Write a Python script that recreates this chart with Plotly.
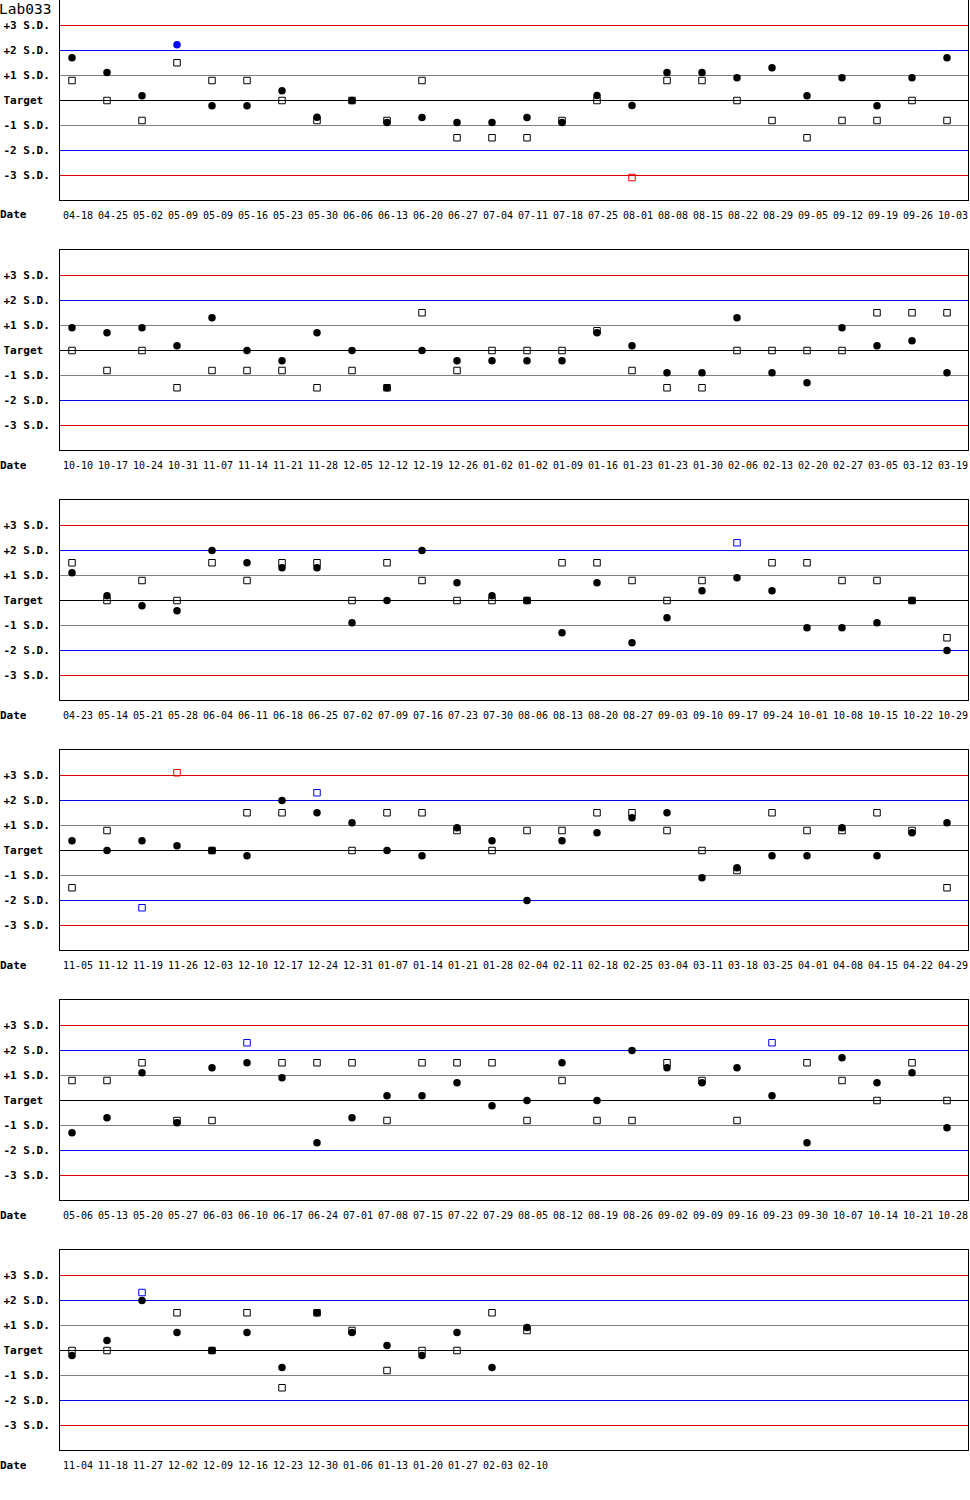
import plotly.graph_objects as go

lab_name = "Lab033"

# weekly QC results in S.D. units: circles = control A, squares = control B
dates_1 = ["04-18", "04-25", "05-02", "05-09", "05-09", "05-16", "05-23", "05-30", "06-06",
           "06-13", "06-20", "06-27", "07-04", "07-11", "07-18", "07-25", "08-01", "08-08",
           "08-15", "08-22", "08-29", "09-05", "09-12", "09-19", "09-26", "10-03"]
ctrl_a_1 = [1.71, 1.12, 0.19, 2.23, -0.21, -0.21, 0.39, -0.67, 0.0, -0.88, -0.68, -0.88, -0.88,
            -0.68, -0.88, 0.2, -0.2, 1.12, 1.12, 0.91, 1.31, 0.19, 0.91, -0.21, 0.91, 1.71]
ctrl_b_1 = [0.8, 0.0, -0.8, 1.51, 0.8, 0.8, 0.0, -0.8, 0.0, -0.8, 0.8, -1.49, -1.49,
            -1.49, -0.8, 0.0, -3.08, 0.8, 0.8, 0.0, -0.8, -1.49, -0.8, -0.8, 0.0, -0.8]

dates_2 = ["10-10", "10-17", "10-24", "10-31", "11-07", "11-14", "11-21", "11-28", "12-05",
           "12-12", "12-19", "12-26", "01-02", "01-02", "01-09", "01-16", "01-23", "01-23",
           "01-30", "02-06", "02-13", "02-20", "02-27", "03-05", "03-12", "03-19"]
ctrl_a_2 = [0.91, 0.71, 0.91, 0.19, 1.31, 0.0, -0.41, 0.71, 0.0, -1.49, 0.0, -0.41, -0.41,
            -0.41, -0.41, 0.71, 0.19, -0.89, -0.89, 1.31, -0.89, -1.29, 0.91, 0.19, 0.39, -0.89]
ctrl_b_2 = [0.0, -0.8, 0.0, -1.49, -0.8, -0.8, -0.8, -1.49, -0.8, -1.49, 1.51, -0.8, 0.0,
            0.0, 0.0, 0.79, -0.8, -1.49, -1.49, 0.0, 0.0, 0.0, 0.0, 1.51, 1.51, 1.51]

dates_3 = ["04-23", "05-14", "05-21", "05-28", "06-04", "06-11", "06-18", "06-25", "07-02",
           "07-09", "07-16", "07-23", "07-30", "08-06", "08-13", "08-20", "08-27", "09-03",
           "09-10", "09-17", "09-24", "10-01", "10-08", "10-15", "10-22", "10-29"]
ctrl_a_3 = [1.11, 0.19, -0.21, -0.41, 2.0, 1.51, 1.31, 1.31, -0.89, 0.0, 2.0, 0.71, 0.19,
            0.0, -1.29, 0.71, -1.69, -0.69, 0.39, 0.91, 0.39, -1.09, -1.09, -0.89, 0.0, -2.0]
ctrl_b_3 = [1.51, 0.0, 0.8, 0.0, 1.51, 0.8, 1.51, 1.51, 0.0, 1.51, 0.8, 0.0, 0.0,
            0.0, 1.51, 1.51, 0.8, 0.0, 0.8, 2.31, 1.51, 1.51, 0.8, 0.8, 0.0, -1.49]

dates_4 = ["11-05", "11-12", "11-19", "11-26", "12-03", "12-10", "12-17", "12-24", "12-31",
           "01-07", "01-14", "01-21", "01-28", "02-04", "02-11", "02-18", "02-25", "03-04",
           "03-11", "03-18", "03-25", "04-01", "04-08", "04-15", "04-22", "04-29"]
ctrl_a_4 = [0.39, 0.0, 0.39, 0.19, 0.0, -0.21, 2.0, 1.51, 1.11, 0.0, -0.21, 0.91, 0.39,
            -2.0, 0.39, 0.71, 1.31, 1.51, -1.09, -0.69, -0.21, -0.21, 0.91, -0.21, 0.71, 1.11]
ctrl_b_4 = [-1.49, 0.8, -2.29, 3.11, 0.0, 1.51, 1.51, 2.31, 0.0, 1.51, 1.51, 0.8, 0.0,
            0.8, 0.8, 1.51, 1.51, 0.8, 0.0, -0.8, 1.51, 0.8, 0.8, 1.51, 0.8, -1.49]

dates_5 = ["05-06", "05-13", "05-20", "05-27", "06-03", "06-10", "06-17", "06-24", "07-01",
           "07-08", "07-15", "07-22", "07-29", "08-05", "08-12", "08-19", "08-26", "09-02",
           "09-09", "09-16", "09-23", "09-30", "10-07", "10-14", "10-21", "10-28"]
ctrl_a_5 = [-1.29, -0.69, 1.11, -0.89, 1.31, 1.51, 0.91, -1.69, -0.69, 0.19, 0.19, 0.71, -0.21,
            0.0, 1.51, 0.0, 2.0, 1.31, 0.71, 1.31, 0.19, -1.69, 1.71, 0.71, 1.11, -1.09]
ctrl_b_5 = [0.8, 0.8, 1.51, -0.8, -0.8, 2.31, 1.51, 1.51, 1.51, -0.8, 1.51, 1.51, 1.51,
            -0.8, 0.8, -0.8, -0.8, 1.51, 0.8, -0.8, 2.31, 1.51, 0.8, 0.0, 1.51, 0.0]

dates_6 = ["11-04", "11-18", "11-27", "12-02", "12-09", "12-16", "12-23", "12-30", "01-06",
           "01-13", "01-20", "01-27", "02-03", "02-10"]
ctrl_a_6 = [-0.2, 0.4, 2.0, 0.72, 0.0, 0.72, -0.68, 1.51, 0.72, 0.2, -0.2, 0.72, -0.68, 0.92]
ctrl_b_6 = [0.0, 0.0, 2.32, 1.51, 0.0, 1.51, -1.49, 1.51, 0.8, -0.8, 0.0, 0.0, 1.51, 0.8]

sd_levels = [3, 2, 1, 0, -1, -2, -3]
sd_labels = ["+3 S.D.", "+2 S.D.", "+1 S.D.", "Target\u00a0", "-1 S.D.", "-2 S.D.", "-3 S.D."]
line_colors = {3: "#dd0000", 2: "#0000ee", 1: "#808080", 0: "#000000"}

panels = [(dates_1, ctrl_a_1, ctrl_b_1), (dates_2, ctrl_a_2, ctrl_b_2),
          (dates_3, ctrl_a_3, ctrl_b_3), (dates_4, ctrl_a_4, ctrl_b_4),
          (dates_5, ctrl_a_5, ctrl_b_5), (dates_6, ctrl_a_6, ctrl_b_6)]


def point_color(v):
    # out of +-3 SD red, out of +-2 SD blue
    if abs(v) > 3:
        return "#ff0000"
    if abs(v) > 2:
        return "#0000ff"
    return "#000000"


W, H = 970, 1500
PANEL_H = 250     # pixels per panel
BOX_H = 200
LEFT, RIGHT = 60, 968
STEP = 35         # pixels between weeks
SLOTS = 26
HALF_PX = 0.5 * 8 / BOX_H   # nudge so 1px lines sit on whole pixels

mono = "DejaVu Sans Mono"

fig = go.Figure()
for k, (dates, a, b) in enumerate(panels):
    sfx = "" if k == 0 else str(k + 1)
    xs = list(range(len(dates)))
    fig.add_trace(go.Scatter(
        x=xs, y=b, mode="markers", xaxis=f"x{sfx}", yaxis=f"y{sfx}",
        marker=dict(symbol="square-open", size=6.5, color=[point_color(v) for v in b],
                    line=dict(width=1)),
        showlegend=False, hoverinfo="skip"))
    fig.add_trace(go.Scatter(
        x=xs, y=a, mode="markers", xaxis=f"x{sfx}", yaxis=f"y{sfx}",
        marker=dict(symbol="circle", size=7.5, color=[point_color(v) for v in a],
                    line=dict(width=0)),
        showlegend=False, hoverinfo="skip"))

    top = PANEL_H * k
    fig.update_layout({
        f"xaxis{sfx}": dict(
            domain=[LEFT / W, RIGHT / W],
            range=[-12 / STEP, SLOTS - 1 + 21 / STEP],
            tickvals=[i + 6 / STEP for i in xs], ticktext=dates,
            ticks="", ticklabelstandoff=6,
            tickfont=dict(family=mono, size=10, color="black"),
            showgrid=False, zeroline=False,
            showline=True, mirror=True, linecolor="black", linewidth=1,
            anchor=f"y{sfx}", fixedrange=True),
        f"yaxis{sfx}": dict(
            domain=[1 - (top + BOX_H) / H, 1 - top / H],
            range=[-4 + HALF_PX, 4 + HALF_PX],
            tickvals=sd_levels, ticktext=sd_labels,
            ticks="", ticklabelstandoff=7,
            tickfont=dict(family=mono, size=11, color="black", weight="bold"),
            showgrid=False, zeroline=False,
            showline=True, mirror=True, linecolor="black", linewidth=1,
            anchor=f"x{sfx}", fixedrange=True),
    })
    for lv in sd_levels:
        fig.add_shape(type="line", xref=f"x{sfx} domain", yref=f"y{sfx}",
                      x0=0, x1=1, y0=lv, y1=lv, layer="below",
                      line=dict(color=line_colors[abs(lv)], width=1))
    fig.add_annotation(text="Date", xref="paper", yref="paper", x=0, xanchor="left",
                       y=1 - (top + 215) / H, yanchor="middle", showarrow=False, xshift=-2,
                       font=dict(family=mono, size=11, color="black", weight="bold"))

fig.add_annotation(text=lab_name, xref="paper", yref="paper", x=0, xanchor="left",
                   y=1, yanchor="top", showarrow=False, xshift=-3, yshift=1,
                   font=dict(family=mono, size=14.5, color="black"))

fig.update_layout(width=W, height=H, margin=dict(l=0, r=0, t=0, b=0),
                  paper_bgcolor="white", plot_bgcolor="white")

fig.write_html("out.html", config={"displayModeBar": False},
               post_script="document.body.style.margin='0';"
                           "document.body.style.overflow='hidden';")
